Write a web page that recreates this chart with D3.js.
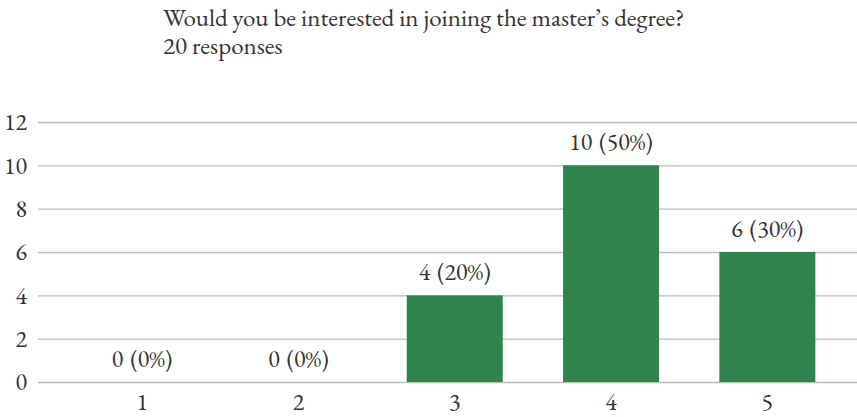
<!DOCTYPE html>
<html>
<head>
<meta charset="utf-8">
<script src="https://cdn.jsdelivr.net/npm/d3@7"></script>
<style>
  html, body { margin: 0; padding: 0; background: #fff; }
  svg { display: block; }
</style>
</head>
<body>
<svg id="chart" width="857" height="417"></svg>
<script>
const title = "Would you be interested in joining the master\u2019s degree?";
const subtitle = "20 responses";
const categories = ["1", "2", "3", "4", "5"];
const counts = [0, 0, 4, 10, 6];
const percents = [0, 0, 20, 50, 30];
const yTicks = [0, 2, 4, 6, 8, 10, 12];

const FONT = '"EB Garamond", "Liberation Serif", serif';
const INK = "#333";
const TITLE_SIZE = "25px";
const SIZE = "24px";

const svg = d3.select("#chart");
const W = 857;

const x = d3.scaleBand()
  .domain(categories)
  .range([64, 845.5])
  .paddingInner(0.386)
  .paddingOuter(0.193);

const y = d3.scaleLinear().domain([0, 12]).range([382, 122]);

// title block
svg.append("text").attr("x", 163).attr("y", 26)
  .style("font-family", FONT).style("font-size", TITLE_SIZE).attr("fill", INK).text(title);
svg.append("text").attr("x", 163).attr("y", 54)
  .style("font-family", FONT).style("font-size", TITLE_SIZE).attr("fill", INK).text(subtitle);

// horizontal gridlines with tick labels
const yAxis = d3.axisLeft(y).tickValues(yTicks).tickSize(-(W - 38)).tickPadding(11);
const gy = svg.append("g").attr("transform", "translate(38,0)").call(yAxis);
gy.select(".domain").remove();
gy.selectAll(".tick line").attr("stroke", "#bdbdbd").attr("stroke-width", 1.3);
gy.selectAll(".tick text").style("font-size", SIZE).style("font-family", FONT).attr("fill", INK);

// category labels
const xAxis = d3.axisBottom(x).tickSize(0).tickPadding(11);
const gx = svg.append("g").attr("transform", "translate(0,382)").call(xAxis);
gx.select(".domain").remove();
gx.selectAll(".tick text").style("font-size", SIZE).style("font-family", FONT).attr("fill", INK);

const data = categories.map((c, i) => ({ c, v: counts[i], p: percents[i] }));

// bars
svg.append("g").selectAll("rect").data(data).join("rect")
  .attr("x", d => x(d.c))
  .attr("width", x.bandwidth())
  .attr("y", d => y(d.v))
  .attr("height", d => y(0) - y(d.v))
  .attr("fill", "#2e844a");

// value labels: count and share of responses
svg.append("g").selectAll("text").data(data).join("text")
  .attr("x", d => x(d.c) + x.bandwidth() / 2)
  .attr("y", d => y(d.v) - 15)
  .attr("text-anchor", "middle")
  .style("font-family", FONT).style("font-size", SIZE).style("word-spacing", "2px")
  .attr("fill", INK)
  .text(d => `${d.v} (${d.p}%)`);
</script>
</body>
</html>
